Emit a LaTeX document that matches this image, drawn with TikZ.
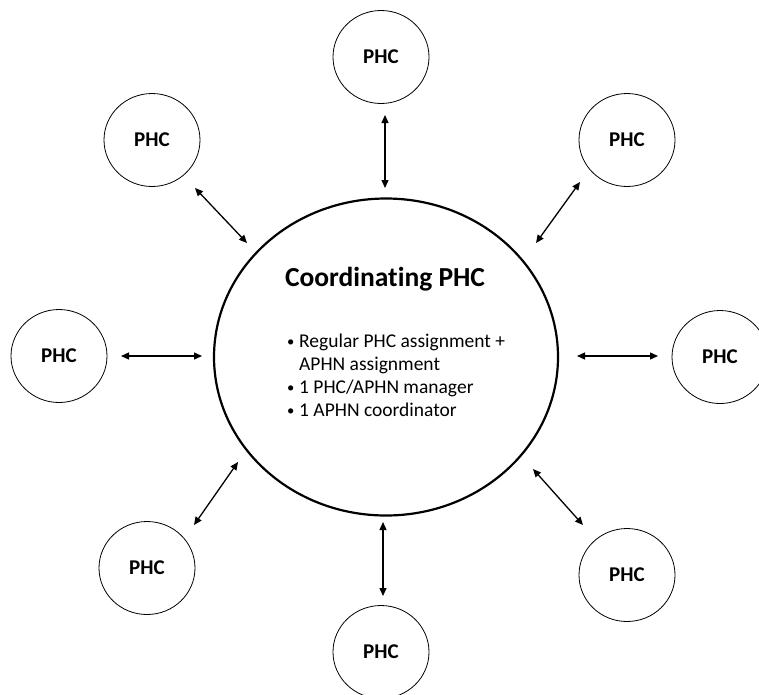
\documentclass[tikz,border=0pt]{standalone}
\usepackage{fontspec}
\setmainfont[Ligatures=NoCommon]{Carlito}
\usetikzlibrary{shapes.geometric,arrows.meta}
\newcommand{\bul}{\makebox[12pt][l]{\raisebox{1pt}{\scalebox{0.75}{•}}}}
\begin{document}
\begin{tikzpicture}[x=1pt,y=-1pt,
  phc/.style={draw=black, line width=0.8pt, ellipse, minimum width=96pt, minimum height=93pt, inner sep=0pt,
    font=\fontsize{21}{24}\selectfont\bfseries},
  hub/.style={draw=black, line width=2.2pt, ellipse, minimum width=344pt, minimum height=317pt},
  biarrow/.style={line width=1.3pt, {Triangle[length=8pt,width=7pt]}-{Triangle[length=8pt,width=7pt]}}]
\useasboundingbox (0,0) rectangle (759,694);
\clip (0,0) rectangle (759,694);
\node[hub] (hub) at (386,357) {};
\node[anchor=base, font=\fontsize{27.5}{30}\selectfont\bfseries] (title) at (385,286) {Coordinating PHC};
\node[anchor=base west, align=left, inner sep=0pt, font=\fontsize{19.5}{23}\selectfont] (list) at (287,416)
  {\bul Regular PHC assignment +\\
   \makebox[12pt][l]{}APHN assignment\\
   \bul 1 PHC/APHN manager\\
   \bul 1 APHN coordinator};
\node[phc] (t) at (381,57) {PHC};
\node[phc] (tl) at (152,140) {PHC};
\node[phc] (tr) at (627,140) {PHC};
\node[phc] (l) at (59,356) {PHC};
\node[phc] (r) at (720,357) {PHC};
\node[phc] (bl) at (147,568) {PHC};
\node[phc] (b) at (381,652) {PHC};
\node[phc] (br) at (627,575) {PHC};
\coordinate (t1) at (385,115);  \coordinate (t2) at (385,188);
\coordinate (tl1) at (195,188); \coordinate (tl2) at (247,243);
\coordinate (tr1) at (580,182); \coordinate (tr2) at (536,243);
\coordinate (l1) at (121,356);  \coordinate (l2) at (202,356);
\coordinate (r1) at (577,356);  \coordinate (r2) at (658,356);
\coordinate (bl1) at (238,462); \coordinate (bl2) at (194,525);
\coordinate (br1) at (533,469); \coordinate (br2) at (583,525);
\coordinate (b1) at (383,522);  \coordinate (b2) at (383,596);
\draw[biarrow] (t1) -- (t2);
\draw[biarrow] (tl1) -- (tl2);
\draw[biarrow] (tr1) -- (tr2);
\draw[biarrow] (l1) -- (l2);
\draw[biarrow] (r1) -- (r2);
\draw[biarrow] (bl1) -- (bl2);
\draw[biarrow] (br1) -- (br2);
\draw[biarrow] (b1) -- (b2);
\end{tikzpicture}
\end{document}
